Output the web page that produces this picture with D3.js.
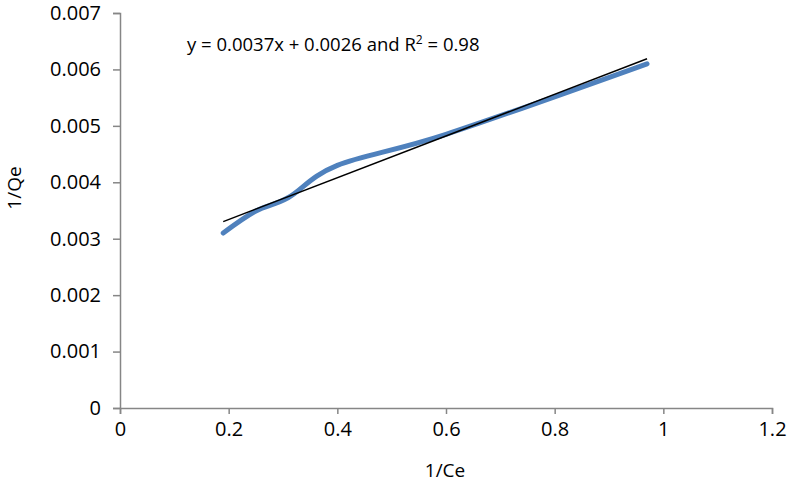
<!DOCTYPE html>
<html>
<head>
<meta charset="utf-8">
<script src="https://cdn.jsdelivr.net/npm/d3@7"></script>
<style>
  body { margin: 0; background: #fff; }
  text { font-family: "Open Sans", sans-serif; fill: #000; }
</style>
</head>
<body>
<div id="chart"></div>
<script>

// data
var inv_ce = [0.19, 0.25, 0.31, 0.40, 0.60, 0.97];
var inv_qe = [0.0031, 0.00349, 0.00373, 0.0043, 0.00485, 0.0061];
var x_ticks = [0, 0.2, 0.4, 0.6, 0.8, 1, 1.2];
var y_ticks = [0, 0.001, 0.002, 0.003, 0.004, 0.005, 0.006, 0.007];
var trend = { slope: 0.0037, intercept: 0.0026, r2: 0.98 };

var width = 787, height = 488;
var margin = { top: 13, right: 15, bottom: 80, left: 120 };

var svg = d3.select("#chart").append("svg")
  .attr("width", width)
  .attr("height", height);

var x = d3.scaleLinear().domain([0, 1.2]).range([margin.left, width - margin.right]);
var y = d3.scaleLinear().domain([0, 0.007]).range([height - margin.bottom, margin.top]);

//Axes
var x_axis = d3.axisBottom(x).tickValues(x_ticks).tickSize(6).tickPadding(8)
  .tickFormat(function(d) { return String(d); });
var y_axis = d3.axisLeft(y).tickValues(y_ticks).tickSize(7).tickPadding(12)
  .tickFormat(function(d) { return d === 0 ? "0" : d3.format(".3f")(d); });

var gx = svg.append("g").attr("transform", "translate(0," + y(0) + ")").call(x_axis);
var gy = svg.append("g").attr("transform", "translate(" + x(0) + ",0)").call(y_axis);

[gx, gy].forEach(function(g) {
  g.select(".domain").attr("stroke", "#868686").attr("stroke-width", 1.5);
  g.selectAll(".tick line").attr("stroke", "#868686").attr("stroke-width", 1.5);
  g.selectAll(".tick text").style("font-size", "20px").style("font-family", "Open Sans");
});

//Data line (smoothed, like the spreadsheet)
var pts = inv_ce.map(function(d, i) { return [d, inv_qe[i]]; });

svg.append("path")
  .datum(pts)
  .attr("fill", "none")
  .attr("stroke", "#4f81bd")
  .attr("stroke-width", 5)
  .attr("stroke-linecap", "round")
  .attr("d", d3.line()
    .x(function(d) { return x(d[0]); })
    .y(function(d) { return y(d[1]); })
    .curve(d3.curveCardinal.tension(0)));

//Trend line from the fitted equation
var x_ext = d3.extent(inv_ce);
svg.append("line")
  .attr("x1", x(x_ext[0]))
  .attr("y1", y(trend.slope * x_ext[0] + trend.intercept))
  .attr("x2", x(x_ext[1]))
  .attr("y2", y(trend.slope * x_ext[1] + trend.intercept))
  .attr("stroke", "#000")
  .attr("stroke-width", 1.5);

//Equation label
var eq = svg.append("text")
  .attr("x", 187)
  .attr("y", 51)
  .style("font-size", "18.5px");
eq.append("tspan").text("y = " + trend.slope + "x + " + trend.intercept + " and R");
eq.append("tspan").attr("dy", -7).style("font-size", "12px").text("2");
eq.append("tspan").attr("dy", 7).text(" = " + trend.r2);

//Axis titles
svg.append("text")
  .attr("x", 445)
  .attr("y", 477)
  .style("text-anchor", "middle")
  .style("font-size", "19px")
  .text("1/Ce");

svg.append("text")
  .attr("transform", "translate(21,188) rotate(-90)")
  .style("text-anchor", "middle")
  .style("font-size", "19px")
  .text("1/Qe");

</script>
</body>
</html>
